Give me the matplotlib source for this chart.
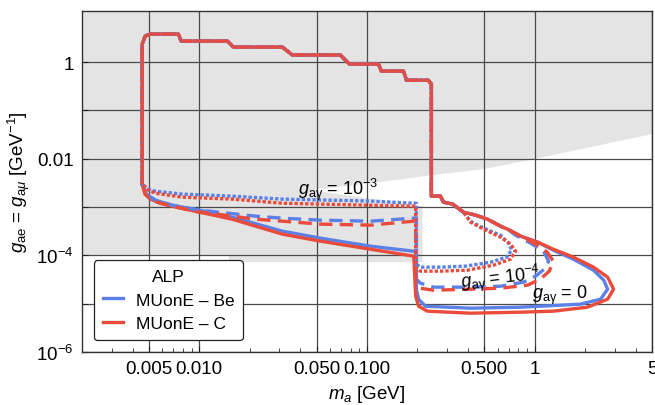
import matplotlib
matplotlib.use("Agg")
import matplotlib.pyplot as plt
from matplotlib.lines import Line2D
from matplotlib.ticker import FixedLocator, NullLocator, LogLocator

plt.rcParams['font.family'] = ['Liberation Sans', 'DejaVu Sans']
plt.rcParams['mathtext.fontset'] = 'custom'
plt.rcParams['mathtext.rm'] = 'Liberation Sans'
plt.rcParams['mathtext.it'] = 'Liberation Sans:italic'
plt.rcParams['mathtext.bf'] = 'Liberation Sans:bold'

# ---- data (m_a in GeV, coupling in GeV^-1) ----
# shared upper boundary: lower-left corner -> top plateau -> drop at ~0.24 GeV
top_m = [0.00457, 0.00457, 0.00476, 0.00511, 0.0075, 0.00781, 0.0147, 0.0160,
         0.0313, 0.0359, 0.0693, 0.0785, 0.117, 0.122, 0.165, 0.172, 0.232,
         0.242, 0.242]
top_g = [2.98e-3, 2.36, 3.45, 3.80, 3.80, 2.72, 2.72, 2.04,
         2.04, 1.40, 1.40, 0.91, 0.91, 0.65, 0.65, 0.42, 0.42,
         0.35, 1.68e-3]

# shared upper edge of the high-mass lobe
edge_m = [0.274, 0.286, 0.324, 0.376, 0.443, 0.523, 0.625, 0.689, 0.823,
          1.04, 1.29, 1.70, 2.24, 2.72, 2.95]
edge_g = [1.68e-3, 1.26e-3, 1.15e-3, 7.84e-4, 6.80e-4, 5.61e-4, 4.02e-4,
          3.49e-4, 2.50e-4, 1.88e-4, 1.34e-4, 9.18e-5, 5.70e-5, 3.54e-5, 2.0e-5]

# rest of each contour (lobe bottom + low-mass lower edge back to the corner)
c_g0_m = [2.72, 2.06, 1.29, 0.823, 0.414, 0.229, 0.203, 0.195, 0.19, 0.105,
          0.0527, 0.0313, 0.0157, 0.0100, 0.0069, 0.00585, 0.00511, 0.00476, 0.00457]
c_g0_g = [1.24e-5, 8.47e-6, 7.0e-6, 6.67e-6, 6.36e-6, 7.0e-6, 8.88e-6, 1.43e-5,
          9.62e-5, 1.34e-4, 1.97e-4, 2.75e-4, 5.61e-4, 7.84e-4, 1.04e-3, 1.20e-3,
          1.46e-3, 1.85e-3, 2.98e-3]

be_g0_m = [1.29, 1.70, 2.24, 2.58, 2.72, 2.47, 1.87, 0.823, 0.414, 0.223, 0.203,
           0.197, 0.197, 0.189, 0.105, 0.0527, 0.0313, 0.0157, 0.0100, 0.0069,
           0.00546, 0.00483, 0.00457]
be_g0_g = [1.28e-4, 8.34e-5, 4.94e-5, 3.06e-5, 2.0e-5, 1.24e-5, 9.77e-6, 8.47e-6,
           8.07e-6, 8.88e-6, 1.24e-5, 2.0e-5, 1.22e-4, 1.22e-4, 1.55e-4, 2.27e-4,
           3.17e-4, 6.18e-4, 8.63e-4, 1.09e-3, 1.39e-3, 1.85e-3, 2.98e-3]

c_g4_m = [1.01, 1.19, 1.29, 1.22, 1.08, 0.906, 0.625, 0.414, 0.249, 0.208, 0.195,
          0.195, 0.189, 0.105, 0.0527, 0.0313, 0.0216, 0.0115, 0.0100, 0.0069,
          0.00585, 0.00511, 0.00476, 0.00457]
c_g4_g = [1.71e-4, 1.16e-4, 7.58e-5, 4.71e-5, 3.22e-5, 2.42e-5, 2.09e-5, 2.0e-5,
          1.9e-5, 2.09e-5, 2.53e-5, 4.64e-4, 5.10e-4, 4.22e-4, 4.43e-4, 5.10e-4,
          5.61e-4, 7.48e-4, 7.84e-4, 1.04e-3, 1.20e-3, 1.46e-3, 1.85e-3, 2.98e-3]

be_g4_m = [0.768, 0.944, 1.13, 1.21, 1.14, 1.01, 0.857, 0.625, 0.414, 0.249, 0.208,
           0.197, 0.197, 0.189, 0.105, 0.0527, 0.0313, 0.0216, 0.0115, 0.0100,
           0.0069, 0.00546, 0.00483, 0.00457]
be_g4_g = [2.62e-4, 1.79e-4, 1.22e-4, 7.58e-5, 5.18e-5, 3.71e-5, 2.79e-5, 2.30e-5,
           2.2e-5, 2.2e-5, 2.66e-5, 3.22e-5, 5.89e-4, 5.89e-4, 5.10e-4, 5.35e-4,
           5.89e-4, 6.48e-4, 8.22e-4, 8.63e-4, 1.09e-3, 1.39e-3, 1.85e-3, 2.98e-3]

c_g3_m = [0.414, 0.495, 0.625, 0.718, 0.768, 0.718, 0.568, 0.397, 0.274, 0.208,
          0.195, 0.195, 0.189, 0.105, 0.0313, 0.0157, 0.00792, 0.00546, 0.00497, 0.00457]
c_g3_g = [4.87e-4, 3.49e-4, 2.38e-4, 1.71e-4, 1.22e-4, 8.34e-5, 6.27e-5, 4.94e-5,
          4.71e-5, 4.71e-5, 5.70e-5, 1.04e-3, 1.04e-3, 1.09e-3, 1.20e-3, 1.46e-3,
          1.60e-3, 1.94e-3, 2.24e-3, 2.98e-3]

be_g3_m = [0.414, 0.495, 0.625, 0.698, 0.728, 0.679, 0.545, 0.387, 0.274, 0.208,
           0.197, 0.197, 0.189, 0.105, 0.0313, 0.0157, 0.00792, 0.00546, 0.00497, 0.00457]
be_g3_g = [5.10e-4, 3.66e-4, 2.62e-4, 1.79e-4, 1.28e-4, 9.18e-5, 7.23e-5, 5.98e-5,
           5.70e-5, 5.70e-5, 6.58e-5, 1.20e-3, 1.20e-3, 1.33e-3, 1.46e-3, 1.68e-3,
           1.85e-3, 2.13e-3, 2.35e-3, 2.98e-3]

# excluded region (grey)
excl_m = [0.002, 5.0, 5.0, 0.984, 0.495, 0.274, 0.0953, 0.046, 0.214, 0.214,
          0.015, 0.015, 0.002]
excl_g = [11.4, 11.4, 0.0323, 9.8e-3, 6.09e-3, 4.8e-3, 2.98e-3, 2.24e-3, 1.04e-3,
          7.23e-5, 7.23e-5, 1.0e-4, 1.0e-4]

x_ticks = [0.005, 0.01, 0.05, 0.1, 0.5, 1, 5]
x_tick_labels = ['0.005', '0.010', '0.050', '0.100', '0.500', '1', '5']
y_ticks = [1e-6, 1e-5, 1e-4, 1e-3, 1e-2, 1e-1, 1]
y_tick_labels = ['$10^{-6}$', '', '$10^{-4}$', '', '0.01', '', '1']

blue = '#5b80e8'
red = '#ea4b3b'
dotted = (0, (1.0, 0.6))
dashed = (0, (4.0, 2.2))

# (rest_m, rest_g, number of shared edge points, colour, style)
curves = [
    (be_g0_m, be_g0_g, 10, blue, '-'),
    (c_g0_m, c_g0_g, 15, red, '-'),
    (be_g4_m, be_g4_g, 8, blue, dashed),
    (c_g4_m, c_g4_g, 9, red, dashed),
    (be_g3_m, be_g3_g, 4, blue, dotted),
    (c_g3_m, c_g3_g, 4, red, dotted),
]

fig = plt.figure(figsize=(6.55, 4.06), dpi=100)
ax = fig.add_axes([0.1252, 0.1305, 0.8702, 0.8399])
ax.set_xscale('log')
ax.set_yscale('log')

ax.fill(excl_m, excl_g, color='#e4e4e4', lw=0, zorder=0.5)

for rm, rg, k, col, ls in curves:
    m = top_m + edge_m[:k] + rm
    g = top_g + edge_g[:k] + rg
    ax.plot(m, g, color=col, lw=2.4, ls=ls, dash_capstyle='butt',
            solid_joinstyle='round', zorder=3)

ax.set_xlim(0.002, 5.0)
ax.set_ylim(1e-6, 11.4)

ax.xaxis.set_major_locator(FixedLocator(x_ticks))
ax.set_xticklabels(x_tick_labels)
ax.xaxis.set_minor_locator(LogLocator(base=10, subs=range(2, 10)))
ax.xaxis.set_minor_formatter(plt.NullFormatter())
ax.yaxis.set_major_locator(FixedLocator(y_ticks))
ax.set_yticklabels(y_tick_labels)
ax.yaxis.set_minor_locator(NullLocator())

ax.tick_params(which='both', direction='in', labelsize=13.5, colors='#222222',
               labelcolor='black')
ax.tick_params(which='major', length=4, width=0.8, pad=6)
ax.tick_params(which='minor', length=3, width=0.6)
ax.grid(True, which='major', color='#4a4a4a', lw=0.9)
ax.set_axisbelow('line')
for s in ax.spines.values():
    s.set_color('#333333')
    s.set_linewidth(1.0)

ax.set_xlabel(r'$m_a$ [GeV]', fontsize=13.5, labelpad=4)
ax.set_ylabel(r'$g_{\rm ae}$ = $g_{{\rm a}\mu}$ [GeV$^{-1}$]', fontsize=13.5, labelpad=3)

ax.text(0.0675, 2.35e-3, r'$g_{\rm a\gamma}$ = 10$^{-3}$', fontsize=13,
        ha='center', va='center', zorder=4)
ax.text(0.625, 3.4e-5, r'$g_{\rm a\gamma}$ = 10$^{-4}$', fontsize=13,
        ha='center', va='center', rotation=6, zorder=4)
ax.text(1.41, 1.58e-5, r'$g_{\rm a\gamma}$ = 0', fontsize=13,
        ha='center', va='center', zorder=4)

handles = [Line2D([], [], color=blue, lw=2.4), Line2D([], [], color=red, lw=2.4)]
leg = ax.legend(handles, ['MUonE – Be', 'MUonE – C'], title='ALP',
                loc='lower left', bbox_to_anchor=(0.021, 0.035), borderaxespad=0,
                fontsize=12.5, title_fontsize=12.5, frameon=True, fancybox=True,
                framealpha=1, edgecolor='#222222', handlelength=1.2,
                handletextpad=0.7, labelspacing=0.5, borderpad=0.5)
leg.get_frame().set_linewidth(0.9)
leg.set_zorder(10)

fig.savefig('out.png', dpi=100)
